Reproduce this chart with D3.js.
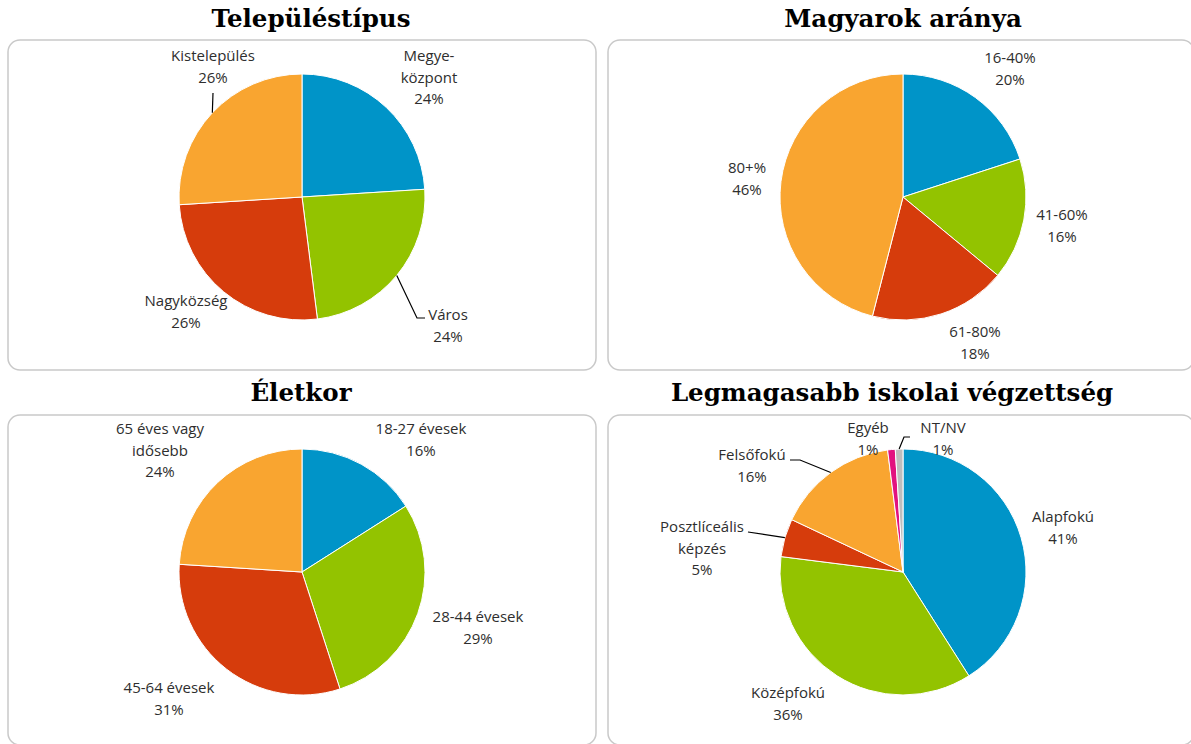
<!DOCTYPE html>
<html>
<head>
<meta charset="utf-8">
<script src="https://cdn.jsdelivr.net/npm/d3@7"></script>
<style>
  body { margin: 0; background: #fff; }
  svg { display: block; }
</style>
</head>
<body>
<svg id="chart" width="1191" height="744"></svg>
<script>
// data
const telepulesCats = ["Megye-\nközpont", "Város", "Nagyközség", "Kistelepülés"];
const telepulesVals = [24, 24, 26, 26];

const magyarCats = ["16-40%", "41-60%", "61-80%", "80+%"];
const magyarVals = [20, 16, 18, 46];

const korCats = ["18-27 évesek", "28-44 évesek", "45-64 évesek", "65 éves vagy\nidősebb"];
const korVals = [16, 29, 31, 24];

const iskolaCats = ["Alapfokú", "Középfokú", "Posztlíceális\nképzés", "Felsőfokú", "Egyéb", "NT/NV"];
const iskolaVals = [41, 36, 5, 16, 1, 1];

const titles = ["Településtípus", "Magyarok aránya", "Életkor", "Legmagasabb iskolai végzettség"];

const colors = ["#0094c8", "#93c300", "#d63c0c", "#f9a530", "#e2127f", "#bdbdbd"];

// layout: label block center / first baseline relative to pie center, optional leader points
const labelPos = [
  [{dx: 127, dy: -136}, {dx: 146, dy: 123, leader: [[115, 121], [123, 121]]},
   {dx: -116, dy: 109}, {dx: -89, dy: -136, leader: [[-89, -104]]}],
  [{dx: 107, dy: -134}, {dx: 159, dy: 23}, {dx: 72, dy: 140}, {dx: -156, dy: -24}],
  [{dx: 119, dy: -138}, {dx: 176, dy: 50}, {dx: -133, dy: 121}, {dx: -142, dy: -138}],
  [{dx: 160, dy: -50}, {dx: -115, dy: 126},
   {dx: -201, dy: -40, leader: [[-155, -40]]},
   {dx: -151, dy: -112, leader: [[-103, -112], [-113, -112]]},
   {dx: -35, dy: -139},
   {dx: 40, dy: -139, leader: [[1, -135], [7, -135]]}]
];

const panels = [
  {cats: telepulesCats, vals: telepulesVals, box: [8, 40, 588], cx: 302, cy: 197, tx: 311, ty: 27},
  {cats: magyarCats, vals: magyarVals, box: [608, 40, 586], cx: 903, cy: 197, tx: 903, ty: 27},
  {cats: korCats, vals: korVals, box: [8, 415, 588], cx: 302, cy: 572, tx: 301, ty: 401},
  {cats: iskolaCats, vals: iskolaVals, box: [608, 415, 586], cx: 903, cy: 572, tx: 892, ty: 401}
];

const svg = d3.select("#chart");
const radius = 123;
const lineH = 21.5;

const pie = d3.pie().sort(null).value(d => d.value);
const arc = d3.arc().innerRadius(0).outerRadius(radius);
const edgeArc = d3.arc().innerRadius(radius).outerRadius(radius);

panels.forEach((p, pi) => {
  svg.append("rect")
    .attr("x", p.box[0]).attr("y", p.box[1])
    .attr("width", p.box[2]).attr("height", 330)
    .attr("rx", 12).attr("ry", 12)
    .attr("fill", "#fff")
    .attr("stroke", "#c9c9c9")
    .attr("stroke-width", 1.5);

  svg.append("text")
    .attr("x", p.tx).attr("y", p.ty)
    .attr("text-anchor", "middle")
    .attr("font-family", "DejaVu Serif")
    .attr("font-weight", "bold")
    .attr("font-size", 24.5)
    .attr("fill", "#000")
    .text(titles[pi]);

  const data = p.cats.map((c, i) => ({name: c, value: p.vals[i]}));
  const arcs = pie(data);
  const g = svg.append("g").attr("transform", `translate(${p.cx},${p.cy})`);

  g.selectAll("path.slice")
    .data(arcs)
    .join("path")
    .attr("class", "slice")
    .attr("d", arc)
    .attr("fill", (d, i) => colors[i])
    .attr("stroke", "#fff")
    .attr("stroke-width", 1);

  arcs.forEach((d, i) => {
    const lp = labelPos[pi][i];
    if (lp.leader) {
      const pts = [edgeArc.centroid(d)].concat(lp.leader);
      g.append("path")
        .attr("d", d3.line()(pts))
        .attr("fill", "none")
        .attr("stroke", "#000")
        .attr("stroke-width", 1.2);
    }
    const lines = d.data.name.split("\n").concat([d.data.value + "%"]);
    const t = g.append("text")
      .attr("x", lp.dx).attr("y", lp.dy)
      .attr("text-anchor", "middle")
      .attr("font-family", "Open Sans")
      .attr("font-size", 15)
      .attr("fill", "#2e2e2e");
    lines.forEach((ln, k) => {
      t.append("tspan")
        .attr("x", lp.dx)
        .attr("y", lp.dy + k * lineH)
        .text(ln);
    });
  });
});
</script>
</body>
</html>
